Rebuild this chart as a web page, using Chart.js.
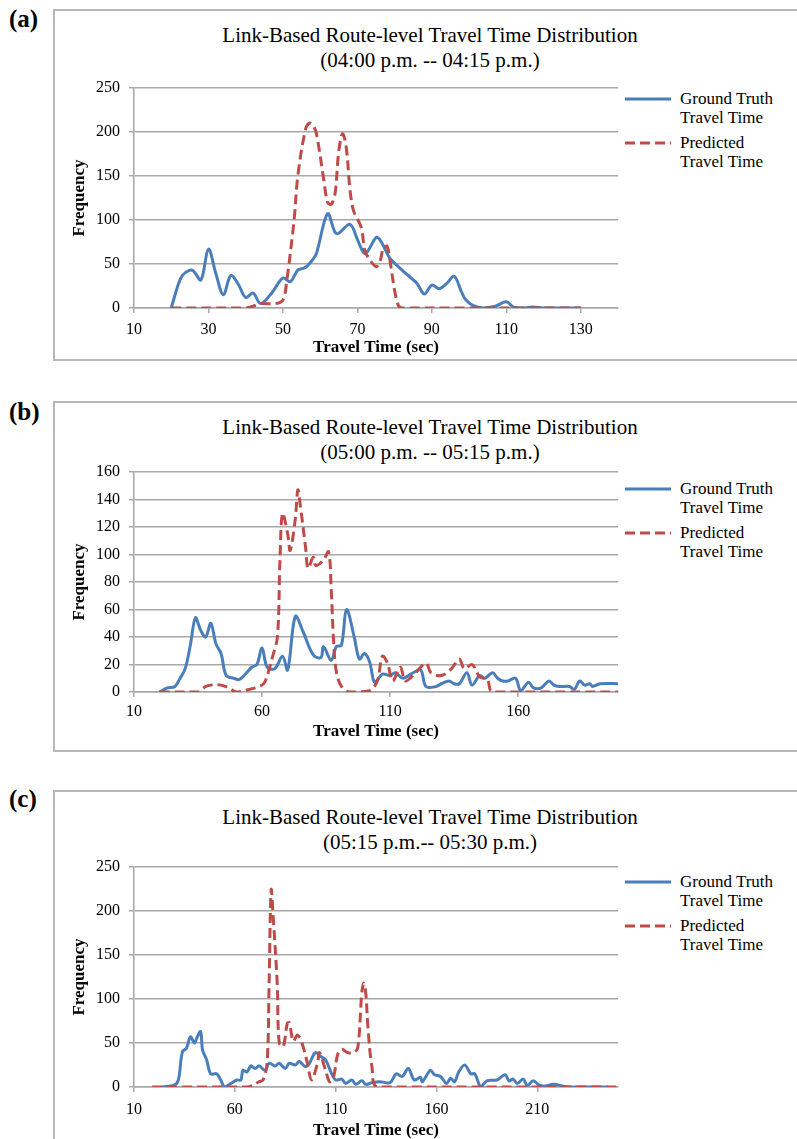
<!DOCTYPE html>
<html lang="en">
<head>
<meta charset="UTF-8">
<title>Link-Based Route-level Travel Time Distribution</title>
<script src="https://cdn.jsdelivr.net/npm/chart.js@4.4.3/dist/chart.umd.min.js"></script>
<style>
  body { margin: 0; background: #fff; width: 797px; height: 1139px; overflow: hidden; position: relative;
         font-family: "Liberation Serif", "Times New Roman", serif; color: #000; }
  .tag { position: absolute; left: 9px; font-weight: bold; font-size: 25px; line-height: 28px; }
  .box { position: absolute; left: 53px; width: 800px; border: 2px solid #b8b8b8; box-sizing: border-box; }
  .title { position: absolute; left: 130px; width: 600px; text-align: center; font-size: 21px; line-height: 25px; }
  .item { position: absolute; left: 625px; width: 170px; height: 40px; font-size: 17px; line-height: 19px; }
  .item svg { position: absolute; left: 0; top: 8px; }
  .item span { position: absolute; left: 55px; top: 0; white-space: nowrap; }
  canvas { position: absolute; left: 53px; }
</style>
</head>
<body>
<script>
// ---- panel (a) 04:00 - 04:15 p.m.
const truthTimeA = [20,22,23,25,26,28,30,32,34,36,38,40,42,44,47,50,52,54,56,58,59,62,64,65,68,70,71,72,73,75,76,78,79,82,85,86,88,90,92,94,96,98,99,101,104,107,110,112,115,117,120,125,130];
const truthFreqA = [0,28,37,43,42,32,67,39,15,37,27,12,17,5,17,34,30,43,46,55,62,107,86,85,95,78,68,62,66,80,78,62,55,43,32,28,16,26,22,28,36,18,10,3,0,2,7,1,0,1,0,0,0];
const predTimeA = [20,40,42,44,48,50,51,53,54,56,57,58,59,61,62,63,64,65,66,67,68,69,71,72,73,75,76,77,78,79,80,81,82,100,130];
const predFreqA = [0,0,2,5,5,9,30,100,150,202,210,208,198,145,120,118,130,178,198,183,135,110,92,65,57,47,52,68,70,47,20,3,0,0,0];
const xTicksA = [10,30,50,70,90,110,130];

// ---- panel (b) 05:00 - 05:15 p.m.
const truthTimeB = [20,23,26,28,30,32,34,36,38,40,42,44,46,49,51,53,56,58,60,62,65,68,70,73,76,80,83,84,87,89,91,93,96,98,100,102,104,107,110,112,115,119,122,124,128,130,133,135,137,140,142,145,147,150,152,154,156,159,161,164,166,169,172,174,176,180,182,184,186,188,189,192,199];
const truthFreqB = [0,3,4,10,17,34,54,45,40,50,35,28,12,10,9,12,18,20,32,18,17,26,16,55,44,27,25,33,23,33,34,60,40,24,28,22,7,13,12,14,10,14,16,4,4,6,8,6,6,14,5,12,10,14,10,8,8,10,1,7,3,3,8,5,4,4,2,8,5,6,4,6,6];
const predTimeB = [20,35,38,40,44,47,50,54,59,61,63,64,66,67,68,70,71,73,74,75,77,78,80,81,84,86,87,88,89,91,94,102,105,107,109,111,114,116,120,124,126,130,134,137,139,142,145,148,150,199];
const predFreqB = [0,0,4,5,5,3,0,1.5,4,7,18,25,40,96,130,115,103,126,147,135,105,90,98,92,96,102,75,35,15,4,0,1,8,26,21,8,18,8,14,21,14,12,17,24,17,20,11,9,0,0];
const xTicksB = [10,60,110,160];

// ---- panel (c) 05:15 - 05:30 p.m.
const truthTimeC = [24,30,32,34,36,38,40,41,43,44,46,48,51,53,55,58,61,63,64,66,68,70,72,75,77,80,82,85,87,90,92,95,97,100,103,105,108,110,113,115,118,120,123,125,128,132,137,140,143,146,149,152,153,157,159,162,165,167,169,171,174,177,179,182,185,190,194,196,198,200,203,205,208,211,214,218,223,226,245];
const truthFreqC = [0,2,8,40,44,57,50,55,63,42,31,15,15,8,0,4,8,8,19,17,24,21,24,19,27,24,27,21,27,25,29,23,27,39,34,31,15,8,9,4,8,3,7,3,5,6,5,15,12,21,8,11,6,19,14,12,4,10,6,17,25,15,15,0,7,8,14,7,9,4,9,2,7,2,1,3,1,0,0];
const predTimeC = [19,66,69,72,74,76,77,78,79,81,82,84,86,87,89,91,93,96,98,101,102,105,107,109,111,113,116,119,121,123,124,125,126,128,131,249];
const predFreqC = [0,0,2,6,8,27,118,224,194,118,50,46,72,73,52,59,52,27,8,27,39,19,6,12,37,43,39,39,45,108,118,105,68,23,0,0];
const xTicksC = [10,60,110,160,210];

const BLUE = '#4a7ebb';
const RED = '#be4b48';
const GRID = '#a8a8a8';
const SERIF = '"Liberation Serif", "Times New Roman", serif';

function pts(xs, ys) {
    return xs.map((x, i) => ({ x: x, y: ys[i] }));
}

function addDiv(cls, top, html) {
    const d = document.createElement('div');
    d.className = cls;
    d.style.top = top + 'px';
    d.innerHTML = html;
    document.body.appendChild(d);
    return d;
}

function legendItem(top, color, dash, lines) {
    const svg = '<svg width="46" height="4"><line x1="0" y1="2" x2="46" y2="2" stroke="' + color +
        '" stroke-width="3"' + (dash ? ' stroke-dasharray="10,5"' : '') + '/></svg>';
    addDiv('item', top, svg + '<span>' + lines.join('<br>') + '</span>');
}

function drawPanel(p) {
    const box = addDiv('box', p.boxTop, '');
    box.style.height = p.boxHeight + 'px';
    addDiv('tag', p.tagTop, p.tag);
    addDiv('title', p.titleTop, 'Link-Based Route-level Travel Time Distribution<br>' + p.period);
    legendItem(p.legendTop, BLUE, false, ['Ground Truth', 'Travel Time']);
    legendItem(p.legendTop + 44, RED, true, ['Predicted', 'Travel Time']);

    const canvas = document.createElement('canvas');
    const axisH = p.titleGap + 12;
    canvas.width = 744;
    canvas.height = 8 + 220 + axisH;
    canvas.style.top = (p.plotTop - 8) + 'px';
    document.body.appendChild(canvas);

    new Chart(canvas, {
        type: 'line',
        data: {
            datasets: [{
                label: 'Ground Truth Travel Time',
                data: pts(p.truthX, p.truthY),
                borderColor: BLUE,
                borderWidth: 3,
                pointRadius: 0,
                tension: 0.35,
                order: 2
            }, {
                label: 'Predicted Travel Time',
                data: pts(p.predX, p.predY),
                borderColor: RED,
                borderWidth: 3,
                borderDash: [10, 5],
                pointRadius: 0,
                tension: 0.35,
                order: 1
            }]
        },
        options: {
            responsive: false,
            animation: false,
            layout: { padding: { left: 14, right: 179, top: 8, bottom: 0 } },
            plugins: { legend: { display: false }, tooltip: { enabled: false } },
            scales: {
                x: {
                    type: 'linear',
                    min: 10,
                    max: p.xMax,
                    afterBuildTicks: s => { s.ticks = p.xTicks.map(v => ({ value: v })); },
                    afterFit: s => { s.height = axisH; s.paddingLeft = 0; s.paddingRight = 0; },
                    ticks: { autoSkip: false, maxRotation: 0, padding: p.labelGap - 15, color: '#000',
                             font: { family: SERIF, size: 16 } },
                    grid: { drawOnChartArea: false, drawTicks: true, tickLength: 5, color: GRID, lineWidth: 1.5 },
                    border: { color: GRID, width: 1.5 },
                    title: { display: true, text: 'Travel Time (sec)', color: '#000',
                             font: { family: SERIF, size: 17, weight: 'bold' }, padding: { top: 0, bottom: 2 } }
                },
                y: {
                    min: 0,
                    max: p.yMax,
                    afterFit: s => { s.width = 67; s.paddingTop = 0; s.paddingBottom = 0; },
                    ticks: { stepSize: p.yStep, padding: 9, color: '#000', font: { family: SERIF, size: 16 } },
                    grid: { color: GRID, lineWidth: 1.5, tickLength: 5 },
                    border: { color: GRID, width: 1.5 },
                    title: { display: true, text: 'Frequency', color: '#000',
                             font: { family: SERIF, size: 17, weight: 'bold' }, padding: { top: 2, bottom: 0 } }
                }
            }
        }
    });
}

drawPanel({ tag: '(a)', period: '(04:00 p.m. -- 04:15 p.m.)',
    boxTop: 9, boxHeight: 352, tagTop: 5, titleTop: 23, legendTop: 89, plotTop: 88,
    labelGap: 22, titleGap: 40, xMax: 140, xTicks: xTicksA, yMax: 250, yStep: 50,
    truthX: truthTimeA, truthY: truthFreqA, predX: predTimeA, predY: predFreqA });

drawPanel({ tag: '(b)', period: '(05:00 p.m. -- 05:15 p.m.)',
    boxTop: 401, boxHeight: 351, tagTop: 398, titleTop: 415, legendTop: 479, plotTop: 472,
    labelGap: 20, titleGap: 40, xMax: 199, xTicks: xTicksB, yMax: 160, yStep: 20,
    truthX: truthTimeB, truthY: truthFreqB, predX: predTimeB, predY: predFreqB });

drawPanel({ tag: '(c)', period: '(05:15 p.m.-- 05:30 p.m.)',
    boxTop: 790, boxHeight: 400, tagTop: 785, titleTop: 805, legendTop: 872, plotTop: 867,
    labelGap: 23, titleGap: 44, xMax: 250, xTicks: xTicksC, yMax: 250, yStep: 50,
    truthX: truthTimeC, truthY: truthFreqC, predX: predTimeC, predY: predFreqC });
</script>
</body>
</html>
